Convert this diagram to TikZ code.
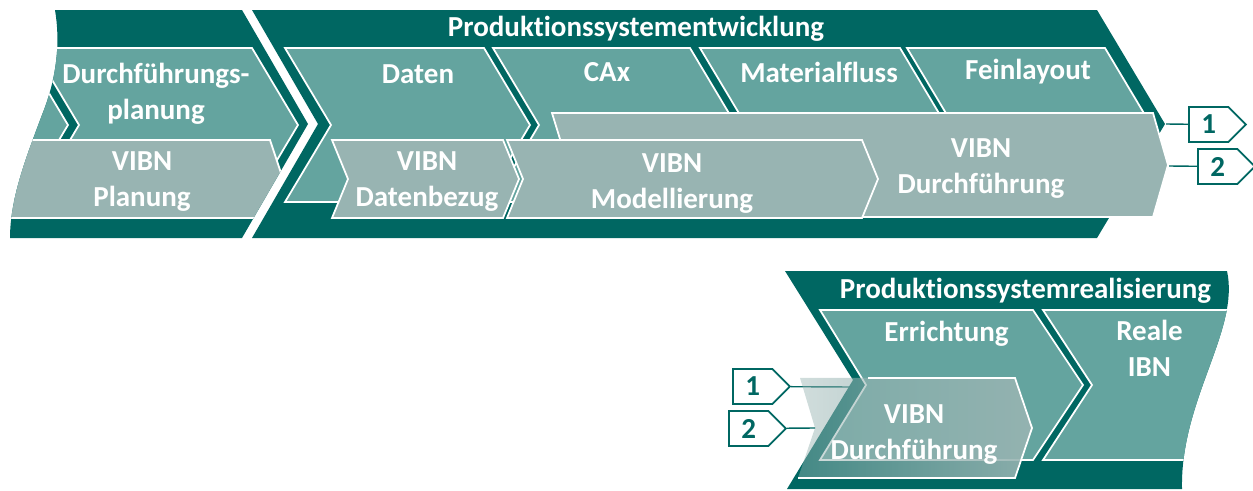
\documentclass[tikz,border=0pt]{standalone}
\usepackage{fontspec}
\setmainfont{Carlito}[Ligatures=NoCommon, Contextuals=NoAlternate]
\usetikzlibrary{shapes.symbols,fadings,positioning}

\definecolor{darkteal}{RGB}{0,103,98}
\definecolor{boxteal}{RGB}{100,164,159}
\definecolor{vibngray}{RGB}{152,180,178}

\tikzstyle{phase} = [fill=darkteal]
\tikzstyle{block} = [fill=boxteal, draw=white, line width=1pt]
\tikzstyle{vibn} = [fill=vibngray, draw=white, line width=1pt]
\tikzstyle{lbl} = [text=white, font=\bfseries\fontsize{16.5}{20.5}\selectfont, align=center, inner sep=0pt]
\tikzstyle{tag} = [signal, signal to=east, signal pointer angle=90, draw=darkteal, fill=white, line width=1pt, text=darkteal, font=\bfseries\fontsize{16.5}{20.5}\selectfont, minimum height=0.7cm, minimum width=1.14cm, inner sep=1pt]
\tikzstyle{link} = [draw=darkteal, line width=0.8pt]

\tikzfading[name=vibnfade, left color=transparent!55, right color=transparent!8]

\newcommand{\phaseApath}{(55,10) -- (242,10) -- (308,124) -- (242,238) -- (10,238) .. controls (10,200) and (25,160) .. (42,115) .. controls (58,75) and (60,40) .. (55,10) -- cycle}
\newcommand{\phaseBpath}{(252,10) -- (1097,10) -- (1165,124) -- (1097,238) -- (252,238) -- (318,124) -- cycle}
\newcommand{\phaseCpath}{(785,271) -- (1227,271) .. controls (1240,330) and (1180,400) .. (1182,489) -- (787,489) -- (853,380) -- cycle}

\begin{document}
\begin{tikzpicture}[x=0.02cm, y=-0.02cm]
\useasboundingbox (0,0) rectangle (1253,490);

% phases
\fill[phase] \phaseApath;
\fill[phase] \phaseBpath;
\fill[phase] \phaseCpath;

% planning
\begin{scope}
  \clip \phaseApath;
  \filldraw[block] (-100,48) -- (22,48) -- (68,125) -- (22,202) -- (-100,202) -- cycle;
  \filldraw[block] (33,48) -- (252,48) -- (298,125) -- (252,202) -- (33,202) -- (79,125) -- cycle;
  \filldraw[vibn] (-50,140) -- (270,140) -- (283,179) -- (270,218) -- (-50,218) -- cycle;
\end{scope}

% development
\filldraw[block] (285,48) -- (484,48) -- (530,125) -- (484,202) -- (285,202) -- (331,125) -- cycle;
\filldraw[block] (493,48) -- (690,48) -- (736,125) -- (690,202) -- (493,202) -- (539,125) -- cycle;
\filldraw[block] (700,48) -- (900,48) -- (946,125) -- (900,202) -- (700,202) -- (746,125) -- cycle;
\filldraw[block] (907,48) -- (1105,48) -- (1151,125) -- (1105,202) -- (907,202) -- (953,125) -- cycle;
\filldraw[vibn] (552,113) -- (1153,113) -- (1168,165) -- (1153,217) -- (552,217) -- (568,165) -- cycle;
\filldraw[vibn] (332,140) -- (503,140) -- (519,179) -- (503,218) -- (332,218) -- (348,179) -- cycle;
\filldraw[vibn] (507,140) -- (862,140) -- (878,179) -- (862,218) -- (507,218) -- (523,179) -- cycle;

% realisation
\begin{scope}
  \clip \phaseCpath;
  \filldraw[block] (1043,310) -- (1300,310) -- (1300,460) -- (1043,460) -- (1092,385) -- cycle;
\end{scope}
\filldraw[block] (820,310) -- (1033,310) -- (1083,385) -- (1033,460) -- (820,460) -- (866,385) -- cycle;

\coordinate (c1) at (1166,124);
\coordinate (c2) at (1169,166);
\coordinate (c3) at (853,387);
\coordinate (c4) at (815,428);

\node[tag, anchor=west] (t3) at (732,386.5) {1};
\node[tag, anchor=west] (t4) at (728,428.5) {2};
\draw[link] (t3) -- (c3);

\fill[vibngray, path fading=vibnfade] (800,378) -- (1015,378) -- (1032,428) -- (1015,478) -- (798,478) -- (815,428) -- cycle;
\draw[white, line width=1pt] (868,378) -- (1015,378) -- (1032,428) -- (1015,478) -- (798,478);
\draw[link] (t4) -- (c4);

% labels
\node[lbl] (h1) at (636,29) {Produktionssystementwicklung};
\node[lbl] (a1) at (156,93.5) {Durchführungs-\\planung};
\node[lbl] (a2) at (142,181.5) {VIBN\\Planung};
\node[lbl] (b1) at (418,74) {Daten};
\node[lbl] (b2) at (607,72) {CAx};
\node[lbl] (b3) at (819,72) {Materialfluss};
\node[lbl] (b4) at (1028,72) {Feinlayout};
\node[lbl] (b5) at (427,181.5) {VIBN\\Datenbezug};
\node[lbl] (b6) at (672,184) {VIBN\\Modellierung};
\node[lbl] (b7) at (981,168.5) {VIBN\\Durchführung};
\node[lbl] (h2) at (1025.5,291) {Produktionssystemrealisierung};
\node[lbl] (d1) at (946.5,334) {Errichtung};
\node[lbl] (d2) at (1149.5,348) {Reale\\IBN};
\node[lbl] (d3) at (914,434.5) {VIBN\\Durchführung};

\node[tag, anchor=west] (t1) at (1188,124.5) {1};
\node[tag, anchor=west] (t2) at (1197,166.5) {2};
\draw[link] (c1) -- (t1);
\draw[link] (c2) -- (t2);

\end{tikzpicture}
\end{document}
